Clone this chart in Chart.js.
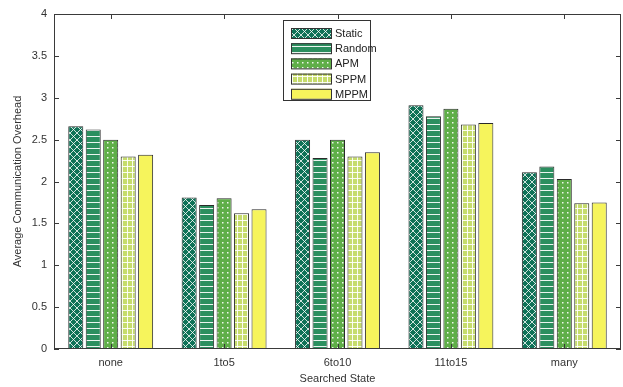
<!DOCTYPE html>
<html>
<head>
<meta charset="utf-8">
<script src="https://cdn.jsdelivr.net/npm/chart.js@4"></script>
<style>
  html, body { margin: 0; padding: 0; background: #fff; }
  #wrap { width: 623px; height: 387px; }
</style>
</head>
<body>
<div id="wrap"><canvas id="c" width="623" height="387"></canvas></div>
<script>
// data
const categories = ['none', '1to5', '6to10', '11to15', 'many'];
const seriesNames = ['Static', 'Random', 'APM', 'SPPM', 'MPPM'];
const staticVals = [2.66, 1.81, 2.50, 2.91, 2.11];
const randomVals = [2.62, 1.72, 2.28, 2.78, 2.18];
const apmVals = [2.50, 1.80, 2.50, 2.87, 2.03];
const sppmVals = [2.30, 1.62, 2.30, 2.68, 1.74];
const mppmVals = [2.32, 1.67, 2.35, 2.70, 1.75];
const yTicks = [0, 0.5, 1, 1.5, 2, 2.5, 3, 3.5, 4];

// hatch patterns, roughly matching the matlab hatchfill look
function makePattern(w, h, base, drawFn) {
  const c = document.createElement('canvas');
  c.width = w; c.height = h;
  const g = c.getContext('2d');
  g.fillStyle = base;
  g.fillRect(0, 0, w, h);
  g.strokeStyle = 'rgba(255,255,255,0.8)';
  g.fillStyle = 'rgba(255,255,255,0.9)';
  g.lineWidth = 1;
  drawFn(g, w, h);
  return document.createElement('canvas').getContext('2d').createPattern(c, 'repeat');
}

const patStatic = makePattern(7, 7, '#0f7257', (g, w, h) => {
  g.beginPath();
  g.moveTo(0, 0); g.lineTo(w, h);
  g.moveTo(w, 0); g.lineTo(0, h);
  g.stroke();
});
const patRandom = makePattern(6, 6, '#2b8f5f', (g, w, h) => {
  g.fillRect(0, 4, w, 1);
});
const patApm = makePattern(5, 5, '#5fae48', (g, w, h) => {
  g.fillRect(2, 2, 1.5, 1.5);
});
const patSppm = makePattern(5, 6, '#c6dc6c', (g, w, h) => {
  g.fillRect(2, 0, 1, h);
  g.fillRect(0, 4, w, 1);
});
const patMppm = '#f6f45c';

const fills = [patStatic, patRandom, patApm, patSppm, patMppm];
const values = [staticVals, randomVals, apmVals, sppmVals, mppmVals];

// axis box, inward ticks and the boxed legend
const matlabAxes = {
  id: 'matlabAxes',
  afterDatasetsDraw(chart) {
    const ctx = chart.ctx;
    const a = chart.chartArea;
    const ys = chart.scales.y, xs = chart.scales.x;
    ctx.save();
    ctx.strokeStyle = '#3a3a3a';
    ctx.lineWidth = 1;
    ctx.strokeRect(Math.round(a.left) + 0.5, Math.round(a.top) + 0.5,
      Math.round(a.right - a.left) - 1, Math.round(a.bottom - a.top) - 1);
    ctx.beginPath();
    yTicks.forEach(v => {
      const y = Math.round(ys.getPixelForValue(v)) + 0.5;
      ctx.moveTo(a.left, y); ctx.lineTo(a.left + 5, y);
      ctx.moveTo(a.right, y); ctx.lineTo(a.right - 5, y);
    });
    categories.forEach((c, i) => {
      const x = Math.round(xs.getPixelForValue(i)) + 0.5;
      ctx.moveTo(x, a.bottom); ctx.lineTo(x, a.bottom - 5);
      ctx.moveTo(x, a.top); ctx.lineTo(x, a.top + 5);
    });
    ctx.stroke();

    // legend
    const lx = 283, ly = 20, lw = 87, lh = 80;
    ctx.fillStyle = '#fff';
    ctx.fillRect(lx, ly, lw, lh);
    ctx.strokeStyle = '#333';
    ctx.strokeRect(lx + 0.5, ly + 0.5, lw, lh);
    ctx.font = '11px "Liberation Sans", Arial, sans-serif';
    ctx.textBaseline = 'middle';
    ctx.textAlign = 'left';
    chart.data.datasets.forEach((ds, i) => {
      const cy = 33 + i * 15.2;
      ctx.fillStyle = ds.backgroundColor;
      ctx.fillRect(291, cy - 5, 40, 10);
      ctx.strokeStyle = '#333';
      ctx.strokeRect(291.5, cy - 5 + 0.5, 40, 10);
      ctx.fillStyle = '#222';
      ctx.fillText(ds.label, 335, cy + 1);
    });
    ctx.restore();
  }
};

new Chart(document.getElementById('c').getContext('2d'), {
  type: 'bar',
  data: {
    labels: categories,
    datasets: seriesNames.map((name, i) => ({
      label: name,
      data: values[i],
      backgroundColor: fills[i],
      borderColor: '#2a2a2a',
      borderWidth: 1,
      borderSkipped: 'bottom',
      categoryPercentage: 0.77,
      barPercentage: 0.86
    }))
  },
  options: {
    responsive: false,
    animation: false,
    devicePixelRatio: 1,
    layout: { padding: { top: 14, right: 2, bottom: 0, left: 0 } },
    scales: {
      x: {
        grid: { display: false, drawTicks: false },
        border: { display: false },
        ticks: {
          color: '#333',
          padding: 7,
          font: { family: '"Liberation Sans", Arial, sans-serif', size: 11 }
        },
        title: {
          display: true,
          text: 'Searched State',
          color: '#333',
          padding: { top: 0, bottom: 1 },
          font: { family: '"Liberation Sans", Arial, sans-serif', size: 11 }
        },
        afterFit(scale) { scale.height = 38; }
      },
      y: {
        min: 0,
        max: 4,
        grid: { display: false, drawTicks: false },
        border: { display: false },
        afterBuildTicks(scale) { scale.ticks = yTicks.map(v => ({ value: v })); },
        ticks: {
          color: '#333',
          padding: 7,
          callback: v => String(v),
          font: { family: '"Liberation Sans", Arial, sans-serif', size: 11 }
        },
        title: {
          display: true,
          text: 'Average Communication Overhead',
          color: '#333',
          padding: { top: 11, bottom: 0 },
          font: { family: '"Liberation Sans", Arial, sans-serif', size: 11 }
        },
        afterFit(scale) { scale.width = 54; }
      }
    },
    plugins: {
      legend: { display: false },
      tooltip: { enabled: false }
    }
  },
  plugins: [matlabAxes]
});
</script>
</body>
</html>
